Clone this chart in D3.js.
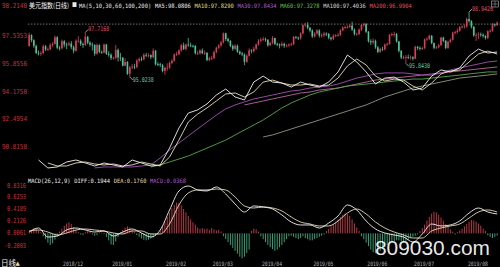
<!DOCTYPE html>
<html><head><meta charset="utf-8">
<script src="https://cdn.jsdelivr.net/npm/d3@7"></script>
<style>html,body{margin:0;padding:0;background:#000;overflow:hidden}svg{display:block}</style>
</head><body>
<svg id="c" width="500" height="267"></svg>
<script>
// ---------- DATA ----------
const firstOpen = 96.90;
const closes = [97.55,97.24,96.90,96.48,96.45,96.47,96.88,96.68,96.71,96.96,97.02,97.42,96.79,96.76,97.18,
96.98,96.97,97.05,96.82,96.61,97.21,97.21,97.02,96.96,97.45,97.09,96.98,96.96,96.43,96.95,96.54,96.50,96.98,96.43,96.36,96.17,
96.18,96.66,96.20,96.19,95.71,95.93,95.22,95.60,95.65,95.62,96.01,96.11,96.10,96.36,96.33,96.34,96.22,96.61,95.80,95.79,95.74,95.39,95.58,
95.59,95.87,96.00,96.38,96.40,96.62,96.94,96.72,96.98,96.93,96.90,96.89,96.45,96.45,96.62,96.46,96.48,96.05,96.15,96.16,
96.53,96.79,96.93,97.11,97.66,97.31,97.20,96.90,96.72,96.91,96.55,96.44,96.38,95.94,96.31,96.63,96.58,96.73,96.98,97.21,97.28,
97.31,97.27,96.94,97.09,97.37,97.02,97.00,96.93,97.02,96.91,96.92,96.98,97.00,97.44,97.40,97.35,97.66,98.15,98.18,97.99,97.83,97.47,
97.65,97.83,97.52,97.54,97.64,97.62,97.39,97.32,97.51,97.54,97.56,97.84,98.00,98.03,98.04,98.12,97.88,97.62,97.62,97.88,98.16,98.21,97.75,
97.18,97.11,97.21,96.81,96.54,96.72,96.70,96.98,97.02,97.55,97.61,97.62,97.17,96.60,96.20,96.22,96.22,96.20,96.21,96.13,
96.84,96.77,96.74,96.77,97.29,97.33,97.51,97.07,96.79,96.81,96.94,97.40,97.21,96.78,97.15,97.27,97.70,97.73,97.82,98.02,98.07,98.07,98.52,
98.39,98.05,97.53,97.56,97.60,97.57,97.50,97.38,97.78,97.81,98.20,98.15,98.30];
const highs = [97.69,97.60,97.30,96.98,96.62,96.58,96.98,96.95,96.80,97.05,97.12,97.53,97.48,96.90,97.28,
97.25,97.10,97.15,97.20,96.92,97.30,97.48,97.30,97.10,97.72,97.50,97.18,97.10,97.00,97.05,97.00,96.62,97.05,97.02,96.58,96.45,
96.25,96.96,96.75,96.48,96.22,96.15,95.98,95.70,95.80,95.82,96.10,96.20,96.25,96.45,96.48,96.45,96.40,96.75,96.65,95.92,95.88,95.82,95.65,
95.85,95.95,96.10,96.45,96.55,96.70,97.02,97.10,97.05,97.37,97.10,96.98,96.95,96.60,96.70,96.75,96.62,96.52,96.25,96.30,
96.62,96.85,97.00,97.20,97.71,97.70,97.40,97.25,96.98,97.00,96.98,96.62,96.55,96.45,96.40,96.75,96.70,96.85,97.05,97.30,97.40,
97.45,97.40,97.30,97.15,97.50,97.40,97.10,97.05,97.15,97.10,97.00,97.05,97.10,97.50,97.50,97.45,97.72,98.20,98.30,98.33,98.05,97.90,
97.72,97.92,97.90,97.65,97.75,97.72,97.68,97.45,97.60,97.62,97.68,97.90,98.08,98.12,98.15,98.20,98.37,97.95,97.70,97.95,98.22,98.30,98.28,
97.80,97.30,97.35,97.28,96.90,96.80,96.85,97.05,97.10,97.62,97.70,97.75,97.68,97.20,96.65,96.32,96.35,96.38,96.32,96.28,
96.92,96.90,96.88,96.85,97.35,97.42,97.58,97.55,97.10,96.90,97.02,97.45,97.45,97.25,97.22,97.35,97.75,97.82,97.95,98.10,98.15,98.20,98.60,
98.94,98.45,98.10,97.70,97.72,97.70,97.65,97.55,97.85,97.90,98.28,98.25,98.38];
const lows = [96.85,97.12,96.78,96.40,96.32,96.30,96.40,96.58,96.60,96.62,96.85,96.98,96.70,96.62,96.68,
96.82,96.70,96.88,96.70,96.45,96.55,97.10,96.90,96.78,96.90,97.00,96.85,96.62,96.30,96.36,96.45,96.42,96.45,96.35,96.25,96.05,
96.08,96.10,95.95,95.98,95.65,95.68,95.15,95.02,95.50,95.50,95.55,95.90,95.98,96.02,96.22,96.20,96.10,96.15,95.72,95.68,95.62,95.30,95.16,
95.40,95.52,95.80,95.95,96.30,96.35,96.55,96.65,96.62,96.85,96.82,96.80,96.38,96.35,96.38,96.40,96.35,95.97,95.98,96.05,
96.10,96.45,96.70,96.85,97.05,97.20,97.10,96.82,96.60,96.65,96.48,96.35,96.28,95.74,95.88,96.25,96.45,96.50,96.65,96.92,97.12,
97.20,97.15,96.85,96.88,97.00,96.95,96.88,96.75,96.85,96.78,96.82,96.85,96.90,96.95,97.32,97.25,97.28,97.60,98.05,97.90,97.72,97.38,
97.40,97.58,97.40,97.40,97.45,97.50,97.30,97.22,97.25,97.42,97.45,97.50,97.78,97.92,97.95,97.98,97.80,97.52,97.52,97.55,97.80,98.05,97.68,
97.10,96.95,97.00,96.72,96.45,96.48,96.60,96.62,96.90,96.98,97.48,97.45,97.10,96.50,96.10,96.10,95.84,96.10,96.08,96.02,
96.10,96.65,96.62,96.65,96.70,97.20,97.25,97.00,96.70,96.72,96.75,96.90,97.12,96.70,96.72,97.08,97.22,97.60,97.65,97.75,97.95,97.95,98.00,
98.30,97.95,97.45,97.20,97.30,97.45,97.40,97.28,97.30,97.70,97.75,98.05,98.10];

const monthLabels = ["2018/12","2019/01","2019/02","2019/03","2019/04","2019/05","2019/06","2019/07","2019/08"];
const monthStart  = [15,36,59,79,100,122,145,165,188];

const priceTicks = [97.5353,95.8556,94.1750,92.4954,90.8158];
const priceTickLabels = ["97.5353","95.8556","94.1750","92.4954","90.8158"];
const priceTop = 98.2140;

const extremes = [
  {idx:24, value:97.7168, label:"97.7168", kind:"high"},
  {idx:43, value:95.0238, label:"95.0238", kind:"low"},
  {idx:161, value:95.8430, label:"95.8430", kind:"low"},
  {idx:188, value:98.9420, label:"98.9420", kind:"high"}
];

// moving-average overlays, sampled every 4th session (index 0,4,...,200)
const maIdx = d3.range(0, 201, 4);
const ma5 = [null,90.02,89.54,89.60,89.90,90.02,89.84,89.66,89.84,89.72,89.60,90.02,89.84,89.66,89.72,90.74,91.95,92.85,93.04,93.40,93.94,94.30,93.82,93.64,94.72,95.08,94.72,94.66,94.42,94.72,94.54,94.42,94.72,95.33,96.35,95.93,95.33,94.60,94.96,95.02,94.72,94.24,94.36,95.08,95.45,95.33,95.57,96.29,96.71,96.47,96.53];
const ma10 = [null,null,89.84,89.66,89.66,89.84,89.90,89.78,89.72,89.78,89.66,89.72,89.90,89.78,89.66,90.20,91.22,92.31,92.79,93.16,93.58,94.00,94.06,93.82,94.12,94.72,94.84,94.66,94.54,94.54,94.60,94.48,94.54,94.96,95.69,96.11,95.75,95.08,94.78,94.90,94.84,94.48,94.24,94.66,95.21,95.39,95.45,95.93,96.41,96.59,96.41];
const ma30 = [null,null,null,null,null,null,null,89.54,89.60,89.60,89.60,89.60,89.66,89.72,90.14,90.62,91.04,91.47,91.89,92.31,92.73,93.10,93.34,93.52,93.70,93.82,93.94,94.06,94.18,94.24,94.36,94.42,94.48,94.60,94.78,94.96,95.08,95.21,95.27,95.27,95.27,95.21,95.14,95.14,95.27,95.45,95.57,95.69,95.81,95.93,95.99];
const ma60 = [null,null,null,null,null,null,null,null,null,null,null,null,null,89.60,89.72,89.90,90.08,90.26,90.50,90.74,90.98,91.22,91.53,91.83,92.13,92.43,92.79,93.16,93.46,93.70,93.94,94.12,94.24,94.36,94.48,94.54,94.60,94.66,94.72,94.78,94.84,94.90,94.90,94.96,95.02,95.08,95.14,95.21,95.27,95.33,95.33];
const ma100 = [null,null,null,null,null,null,null,null,null,null,null,null,null,null,null,null,null,null,null,null,null,null,null,null,null,91.41,91.53,91.71,91.89,92.07,92.25,92.43,92.61,92.79,92.97,93.16,93.34,93.58,93.82,94.00,94.18,94.36,94.48,94.60,94.72,94.84,94.96,95.02,95.08,95.14,95.21];
const ma200 = [null,null,null,null,null,null,null,null,null,null,null,null,null,null,null,null,null,null,null,null,null,null,null,93.34,93.46,93.58,93.70,93.82,93.94,94.06,94.12,94.24,94.30,94.36,94.48,94.60,94.72,94.84,94.90,94.96,95.02,95.08,95.14,95.21,95.27,95.33,95.39,95.45,95.51,95.57,95.63];

const macdTicks = [0.8316,0.6253,0.4189,0.2126,0.0061,-0.2003];
const macdTickLabels = ["0.8316","0.6253","0.4189","0.2126","0.0061","-0.2003"];
const diff = [0.023,0.092,-0.063,-0.046,0.058,0.092,0.058,0.023,0.041,-0.046,0.023,0.075,0.006,-0.063,0.058,0.402,0.729,0.815,0.746,0.729,0.798,0.677,0.505,0.367,0.471,0.454,0.419,0.316,0.195,0.144,0.144,0.092,0.178,0.299,0.488,0.402,0.213,0.075,0.006,-0.028,-0.063,-0.149,-0.011,0.161,0.127,0.144,0.213,0.350,0.436,0.367,0.333];
const dea = [0.041,0.058,0.023,-0.028,0.006,0.058,0.075,0.058,0.041,0.006,-0.011,0.041,0.041,-0.011,-0.011,0.161,0.488,0.694,0.746,0.746,0.763,0.746,0.626,0.471,0.436,0.454,0.436,0.385,0.281,0.195,0.161,0.127,0.127,0.213,0.350,0.419,0.333,0.195,0.092,0.023,-0.028,-0.080,-0.080,0.041,0.092,0.127,0.161,0.264,0.367,0.402,0.367];
const hist = [0.03,0.06,0.09,0.08,0.05,0.02,
-0.05,-0.10,-0.16,-0.20,-0.17,-0.11,-0.05,
0.03,0.08,0.13,0.17,0.19,0.16,0.11,0.06,0.02,
-0.02,-0.03,0.02,0.04,0.03,-0.02,-0.04,-0.03,0.02,0.01,-0.01,
-0.06,-0.12,-0.19,-0.20,-0.14,-0.06,
0.02,0.06,0.10,0.12,0.10,0.06,0.02,
-0.03,-0.06,-0.09,-0.11,-0.12,-0.11,-0.09,-0.07,-0.04,-0.02,
0.05,0.12,0.20,0.28,0.36,0.43,0.49,0.53,0.52,0.48,0.42,0.36,0.30,0.24,0.19,0.15,
0.10,0.08,0.09,0.07,0.08,0.06,0.09,0.07,0.05,0.06,0.03,
-0.05,-0.10,-0.15,-0.20,-0.25,-0.30,-0.35,-0.40,-0.43,-0.40,-0.34,-0.28,
0.04,0.08,0.07,0.03,
-0.05,-0.10,-0.15,-0.20,-0.24,-0.27,-0.30,-0.28,-0.24,-0.20,-0.15,-0.10,-0.05,
-0.04,-0.06,-0.08,-0.10,-0.08,-0.05,
-0.08,-0.10,-0.12,-0.12,-0.10,-0.08,-0.06,-0.04,-0.02,
0.04,0.08,0.12,0.16,0.20,0.24,0.28,0.32,0.34,0.33,0.30,0.24,0.17,0.10,0.04,
-0.05,-0.10,-0.16,-0.22,-0.28,-0.32,-0.34,-0.33,-0.30,-0.27,-0.24,-0.20,-0.17,-0.15,-0.13,-0.12,-0.12,-0.13,-0.14,-0.13,-0.11,-0.08,-0.06,-0.04,-0.02,
0.04,0.09,0.15,0.22,0.28,0.34,0.37,0.36,0.32,0.27,0.22,0.16,0.11,0.07,0.03,
-0.02,0.02,0.05,
0.08,0.12,0.16,0.20,0.23,0.22,0.20,0.17,0.13,0.08,0.04,
-0.03,-0.06,-0.08,-0.06,-0.04];

// ---------- CHART ----------
const W = 500, H = 267;
const svg = d3.select("#c");
svg.append("rect").attr("width", W).attr("height", H).attr("fill", "#000");

const UP = "#d8405a", DOWN = "#4fc49c", AXIS_RED = "#c8323c";
const MONO = "'DejaVu Sans Mono','Liberation Mono',monospace";
const CH = 3.3; // width of one title character

const n = closes.length;
const x = d3.scaleLinear().domain([0, n]).range([28, 28 + n * 2.34]);
const cx = i => x(i + 0.5);
const y = d3.scaleLinear().domain([90.8158, 98.214]).range([146.8, 24.1]);
const ym = d3.scaleLinear().domain([-0.2003, 0.8316]).range([245, 185]);

// dashed top reference line
svg.append("line").attr("x1", 28).attr("x2", 500)
  .attr("y1", y(priceTop)).attr("y2", y(priceTop))
  .attr("stroke", "#8a8a8a").attr("stroke-width", 0.8).attr("stroke-dasharray", "1.5,1.5");

// candles
const opens = closes.map((c, i) => i === 0 ? firstOpen : closes[i - 1]);
const cg = svg.append("g");
closes.forEach((c, i) => {
  const o = opens[i];
  const col = c >= o ? UP : DOWN;
  cg.append("line").attr("x1", cx(i)).attr("x2", cx(i))
    .attr("y1", y(highs[i])).attr("y2", y(lows[i]))
    .attr("stroke", col).attr("stroke-width", 0.8);
  const top = y(Math.max(o, c)), bot = y(Math.min(o, c));
  cg.append("rect").attr("x", cx(i) - 0.8).attr("width", 1.6)
    .attr("y", top).attr("height", Math.max(0.8, bot - top))
    .attr("fill", col);
});

// MA overlays
const maSeries = [
  {vals: ma200, color: "#b86a9a"},
  {vals: ma100, color: "#8e9a7e"},
  {vals: ma60,  color: "#58a848"},
  {vals: ma30,  color: "#a450b8"},
  {vals: ma10,  color: "#e6ddb6"},
  {vals: ma5,   color: "#f2f2f2"}
];
const maLine = d3.line().defined(d => d[1] != null).x(d => cx(d[0])).y(d => y(d[1]));
maSeries.forEach(s => {
  svg.append("path").datum(maIdx.map((k, j) => [k, s.vals[j]]))
    .attr("d", maLine).attr("fill", "none").attr("stroke", s.color).attr("stroke-width", 0.9);
});

// extreme markers
extremes.forEach(e => {
  const px = cx(e.idx), py = y(e.value);
  const isHigh = e.kind === "high";
  const ty = isHigh ? py - 3 : py + 3;
  svg.append("line").attr("x1", px).attr("y1", py).attr("x2", px + 3).attr("y2", ty)
    .attr("stroke", "#ddd").attr("stroke-width", 0.7);
  svg.append("text").attr("x", px + 3).attr("y", Math.max(ty + 2, 8.5))
    .attr("font-family", MONO).attr("font-size", 6.5)
    .attr("textLength", 21).attr("lengthAdjust", "spacingAndGlyphs")
    .attr("fill", isHigh ? "#e0506a" : "#5ccfa0").text(e.label);
});

// price axis labels
const ax = svg.append("g").attr("font-family", MONO).attr("font-size", 7).attr("fill", AXIS_RED);
priceTicks.forEach((v, i) => {
  ax.append("text").attr("x", 2).attr("y", y(v) + 2.5)
    .attr("textLength", 25).attr("lengthAdjust", "spacingAndGlyphs").text(priceTickLabels[i]);
});
ax.append("text").attr("x", 2).attr("y", 7.5).attr("textLength", 25)
  .attr("lengthAdjust", "spacingAndGlyphs").text(d3.format(".4f")(priceTop));

// title line (fixed character pitch, one space between parts)
const titleParts = [
  {t: "MA(5,10,30,60,100,200)", c: "#e8e8e8"},
  {t: "MA5:98.0806", c: "#f0f0f0"},
  {t: "MA10:97.8290", c: "#e6d98a"},
  {t: "MA30:97.8434", c: "#b45ad0"},
  {t: "MA60:97.3278", c: "#66c04c"},
  {t: "MA100:97.4036", c: "#d8d8d8"},
  {t: "MA200:96.9904", c: "#e0505a"}
];
svg.append("text").attr("x", 29).attr("y", 7.5)
  .attr("font-family", "'Noto Sans CJK SC',sans-serif").attr("font-size", 6.5)
  .attr("textLength", 40).attr("lengthAdjust", "spacingAndGlyphs")
  .attr("fill", "#ffffff").text("美元指数(日线)");
svg.append("rect").attr("x", 72.5).attr("y", 2.2).attr("width", 4).attr("height", 4.8).attr("fill", "#e8e8e8");
let tx = 79;
titleParts.forEach(d => {
  const w = d.t.length * CH;
  svg.append("text").attr("x", tx).attr("y", 7.5)
    .attr("font-family", MONO).attr("font-size", 6)
    .attr("textLength", w - 0.4).attr("lengthAdjust", "spacingAndGlyphs")
    .attr("fill", d.c).text(d.t);
  tx += w + CH;
});
// small window icon top-right
svg.append("rect").attr("x", 491.5).attr("y", 1).attr("width", 7).attr("height", 6)
  .attr("fill", "none").attr("stroke", "#999").attr("stroke-width", 0.7);
svg.append("line").attr("x1", 495).attr("x2", 495).attr("y1", 1).attr("y2", 7).attr("stroke", "#999").attr("stroke-width", 0.6);
svg.append("line").attr("x1", 491.5).attr("x2", 498.5).attr("y1", 4).attr("y2", 4).attr("stroke", "#999").attr("stroke-width", 0.6);

// ---------- MACD ----------
const hg = svg.append("g");
hist.forEach((v, i) => {
  hg.append("line").attr("x1", cx(i)).attr("x2", cx(i))
    .attr("y1", ym(0)).attr("y2", ym(v))
    .attr("stroke", v >= 0 ? "#c8404e" : "#3fae84").attr("stroke-width", 0.9);
});
const mLine = d3.line().x(d => cx(d[0])).y(d => ym(d[1])).curve(d3.curveMonotoneX);
svg.append("path").datum(maIdx.map((k, j) => [k, dea[j]])).attr("d", mLine)
  .attr("fill", "none").attr("stroke", "#e6ddb6").attr("stroke-width", 0.9);
svg.append("path").datum(maIdx.map((k, j) => [k, diff[j]])).attr("d", mLine)
  .attr("fill", "none").attr("stroke", "#f4f4f4").attr("stroke-width", 0.9);

const mx = svg.append("g").attr("font-family", MONO).attr("font-size", 7).attr("fill", AXIS_RED);
macdTicks.forEach((v, i) => {
  const lab = macdTickLabels[i];
  const neg = lab.startsWith("-");
  mx.append("text").attr("x", neg ? 4 : 7).attr("y", ym(v) + 2.5)
    .attr("textLength", neg ? 22 : 19).attr("lengthAdjust", "spacingAndGlyphs").text(lab);
});

const macdParts = [
  {t: "MACD(26,12,9)", c: "#eeeeee"},
  {t: "DIFF:0.1944", c: "#eeeeee"},
  {t: "DEA:0.1760", c: "#e6ddb6"},
  {t: "MACD:0.0368", c: "#b45ad0"}
];
let mtx = 28;
macdParts.forEach(d => {
  const w = d.t.length * CH;
  svg.append("text").attr("x", mtx).attr("y", 183)
    .attr("font-family", MONO).attr("font-size", 6)
    .attr("textLength", w - 0.4).attr("lengthAdjust", "spacingAndGlyphs")
    .attr("fill", d.c).text(d.t);
  mtx += w + CH;
});

// ---------- X axis ----------
monthLabels.forEach((m, i) => {
  svg.append("text").attr("x", x(monthStart[i])).attr("y", 265.5)
    .attr("font-family", MONO).attr("font-size", 6)
    .attr("textLength", 20).attr("lengthAdjust", "spacingAndGlyphs")
    .attr("fill", "#b0b0b0").text(m);
});
svg.append("text").attr("x", 1).attr("y", 265.5)
  .attr("font-family", "'Noto Sans CJK SC',sans-serif").attr("font-size", 7.5)
  .attr("fill", "#f0f0f0").text("日线");
svg.append("text").attr("x", 15.5).attr("y", 265)
  .attr("font-family", "'DejaVu Sans',sans-serif").attr("font-size", 5.5)
  .attr("fill", "#f0e0a0").text("▲");

// watermark
svg.append("text").attr("x", 375).attr("y", 254.5)
  .attr("font-family", "'Liberation Sans',Arial,sans-serif").attr("font-size", 19.5)
  .attr("textLength", 115).attr("lengthAdjust", "spacingAndGlyphs")
  .attr("fill", "#ffffff").attr("fill-opacity", 0.92).text("809030.com");
</script>
</body></html>
